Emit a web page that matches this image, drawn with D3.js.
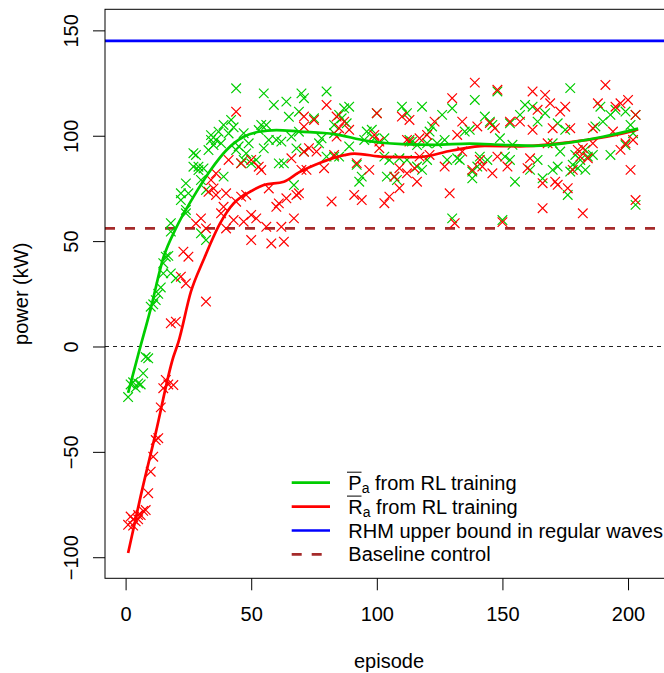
<!DOCTYPE html>
<html>
<head>
<meta charset="utf-8">
<script src="https://cdn.jsdelivr.net/npm/d3@7"></script>
<style>
  html, body { margin: 0; padding: 0; background: #fff; }
  svg { display: block; font-family: "Liberation Sans", Arial, Helvetica, sans-serif; }
</style>
</head>
<body>
<svg id="drawing_region"></svg>
<script>
// [episode, power]
const greenPoints = [
  [1,-24],[2,-18],[3,-17],[4,-19.5],[5,-17.5],[6,-18],[7,-12.7],[8,-5],[9,-5.6],[10,18.9],[11,20],[12,22],[13,25],[14,28],
  [15,39.5],[15,34.7],[16,42.6],[17,43],[18,54.5],[18,34.7],[18,58.5],[20,32.4],
  [22,72.7],[22,69.5],[24,77.4],[24,63.2],[25,72.7],[24,64.8],[27,85.3],[27,91.7],[28,90.9],[29,83.7],[29,85.3],[30,79],
  [30,53.7],[31,84.5],[32,50.5],[32,74.3],[33,93.2],[34,98],[34,100.3],[35,95.6],[36,98],[37,101.9],[38,96.4],[39,105.1],
  [39,80.6],[41,101.1],[42,107.5],[43,104],[44,122.5],[44,93.2],[45,95],[46,87],[47,88.5],[47,101.2],[48,91.6],[49,96.4],
  [50,86.9],[52,88.5],[53,102.7],[54,105.1],[55,120.1],[55,94],[56,105.1],[57,98],[59,114.6],[60,98],[61,86.9],[62,97.2],
  [63,86.9],[64,116.2],[65,109],[66,99.6],[67,76.6],[68,94],[69,111.4],[69,101.9],[70,120.1],[71,117.8],
  [80,121],[89,113.8],[87,113],[85,109.9],[86,108.3],[75,108.3],[83,105.1],[88,105.9],[100,110.7],[110,113.8],[112,110.7],
  [118,113.8],[96,102],[98,102.8],[95,98],[99,98.8],[103,98.8],[78,98.8],[77,96.4],[83,101.2],[89,94.9],[71,92.5],[80,90.1],
  [83,90.1],[103,90.1],[105,88.5],[109,89.3],[112,88.5],[116,85.4],[120,88.5],[104,80.6],[107,80.6],[108,79],[93,78.2],
  [92,86.2],[94,80.6],[85,90.1],[120,96.4],[114,97.2],[113,98],[116,95.6],
  [130,113],[139,117],[148,121],[126,109.9],[122,104.4],[121,102],[127,98],[124,96.4],[135,102],[137,102.8],[143,109.1],
  [145,106.7],[146,105.1],[149,98.8],[153,105.9],[157,109.9],[159,114.6],[162,113.8],[164,106.7],[167,110.7],[154,95.7],
  [151,90.1],[153,88.5],[141,90.1],[140,85.4],[144,88.5],[138,83],[138,79.8],[128,88.5],[132,89.3],[133,88.5],[155,78.2],
  [161,83.8],[164,88.5],[166,79.8],[118,83.8],[130,60.8],[150,60],
  [177,122.6],[172,105.9],[175,102.8],[189,113.8],[187,104.4],[190,106.7],[193,109.9],[195,112.3],[199,111.5],[201,105.1],
  [203,109.9],[202,101.2],[170,96.4],[173,92.5],[179,90.9],[181,88.5],[184,90.1],[186,90.9],[183,93.3],[193,90.9],[199,95.6],
  [172,85.4],[170,83.8],[178,86.2],[180,84.6],[183,83.8],[177,83],[176,71.9],[203,67.2]
];

const redPoints = [
  [1,-84.6],[2,-80.7],[3,-82],[3,-85],[4,-83],[5,-80],[5,-82],[6,-80],[7,-78],[8,-77.6],[9,-69.6],[10,-59.4],[11,-52.3],
  [12,-44.4],[13,-43.5],[14,-28.9],[15,-19.8],[16,-15.9],[17,-18],[19,-18.3],[18,11],[20,11.8],
  [22,33.1],[23,45],[24,29.9],[25,42.6],[28,58.4],[30,60.8],[32,56],[32,21.3],[33,73.4],[34,79],[35,75],[36,71.9],[36,82.1],
  [38,63.2],[39,66.3],[40,72.7],[40,56],[41,88.5],[43,60],[44,68.7],[44,111.4],[46,86.9],[46,71.1],[47,59.2],[48,71.9],
  [50,62.4],[50,50.5],[50,88.5],[52,60.8],[53,85.3],[54,83.7],[56,56.8],[57,75],[58,48.9],[60,66.3],[61,67.9],[62,56.8],
  [63,49.7],[64,70.3],[66,89.3],[67,60.8],[68,71.9],[71,92.4],[71,104.3],
  [80,114.6],[71,109.1],[75,107.5],[84,109.1],[87,106.7],[89,102.8],[85,103.6],[84,99.6],[73,94.1],[76,92.5],[83,90.9],
  [70,83.8],[72,83.8],[79,84.6],[92,87],[97,83.8],[101,94.1],[99,100.4],[101,97.2],[110,109.1],[113,107.5],[112,98],
  [113,97.2],[117,98.8],[120,100.4],[69,72.7],[82,68.8],[91,71.9],[94,69.5],[103,68],[105,71.1],[109,75.1],[112,82.2],
  [116,78.2],[107,80.6],[121,90.9],[109,84.6],[115,84.6],[100,110.7],
  [139,125.2],[148,121.8],[130,117.8],[162,121],[167,119.4],[123,106.7],[134,106.7],[132,100.4],[140,104.4],[145,106],
  [147,103.6],[153,106.7],[157,106.7],[162,102.8],[164,112.3],[168,96.4],[117,90.1],[127,85.4],[141,88.5],[142,85.4],
  [138,83.8],[146,82.2],[148,90.1],[152,85.4],[160,84.6],[161,89.3],[166,77.5],[129,72.7],[131,58.5],[166,65.6],[134,92.5],
  [150,59],
  [191,124.1],[169,115.4],[175,113.8],[173,111.5],[188,115.4],[195,113.8],[197,115.4],[200,117],[203,109.9],[170,103.6],
  [177,103.6],[186,103.6],[194,102],[202,98],[199,96.4],[197,93.3],[180,93.3],[182,94.1],[186,96.4],[181,90.1],[184,89.3],
  [171,78.2],[172,76.7],[176,75.1],[178,83.8],[201,83.8],[203,69.5],[182,63.2]
];

// smoothed curves
const greenSmooth = [
  [1,-22],[5,-4],[10,18],[15,42],[20,56],[27,71],[34,84],[40,93],[47,99.5],[53,101.9],[60,102.7],[69,102],
  [83,100.8],[96,97.6],[110,96],[123,95.7],[137,96.3],[150,95.7],[163,95.2],[177,96.8],[190,99.5],[204,103.4]
];
const redSmooth = [
  [1,-98],[6,-71],[12,-41],[19,-5],[21,2],[26,26],[31,41],[37.6,58.4],[43,67.9],[49.5,73.4],[55,76.6],[63,78.2],
  [69,82.6],[77.5,87.2],[87,90.8],[91,91.5],[103,90],[116,89.8],[130,93],[143,95.2],[157,95],[170,96],[183,97.9],
  [197,100.8],[204,103]
];

const upperBound = 145;
const baselineControl = 56;
const xTicks = [0, 50, 100, 150, 200];
const yTicks = [-100, -50, 0, 50, 100, 150];
const legendItems = [
  {sym: "P", text: " from RL training", color: "#00CD00", dash: null},
  {sym: "R", text: " from RL training", color: "#FF0000", dash: null},
  {sym: null, text: "RHM upper bound in regular waves", color: "#0000FF", dash: null},
  {sym: null, text: "Baseline control", color: "#A52A2A", dash: "10,10"}
];

const W = 664, H = 673;
const box = {left: 105, right: 673, top: 9.3, bottom: 578.3};

const svg = d3.select("#drawing_region").attr("width", W).attr("height", H);

const x = d3.scaleLinear().domain([-8.2, 217.9]).range([box.left, box.right]);
const y = d3.scaleLinear().domain([-110, 160]).range([box.bottom, box.top]);

svg.append("clipPath").attr("id", "plotclip")
  .append("rect")
  .attr("x", box.left).attr("y", box.top)
  .attr("width", box.right - box.left).attr("height", box.bottom - box.top);

const plot = svg.append("g").attr("clip-path", "url(#plotclip)");

// reference lines
plot.append("line")
  .attr("x1", box.left).attr("x2", box.right)
  .attr("y1", y(0)).attr("y2", y(0))
  .attr("stroke", "#222").attr("stroke-width", 1.1).attr("stroke-dasharray", "4,4");

plot.append("line")
  .attr("x1", box.left).attr("x2", box.right)
  .attr("y1", y(baselineControl)).attr("y2", y(baselineControl))
  .attr("stroke", "#A52A2A").attr("stroke-width", 2.7).attr("stroke-dasharray", "10,10");

plot.append("line")
  .attr("x1", box.left).attr("x2", box.right)
  .attr("y1", y(upperBound)).attr("y2", y(upperBound))
  .attr("stroke", "#0000FF").attr("stroke-width", 2.7);

// x markers
const s = 4.8;
const cross = `M${-s},${-s}L${s},${s}M${-s},${s}L${s},${-s}`;

function drawPoints(data, color) {
  plot.append("g").selectAll("path")
    .data(data)
    .enter()
    .append("path")
    .attr("d", cross)
    .attr("transform", d => `translate(${x(d[0])},${y(d[1])})`)
    .attr("fill", "none")
    .attr("stroke", color)
    .attr("stroke-width", 1.2);
}
drawPoints(greenPoints, "#00CD00");
drawPoints(redPoints, "#FF0000");

const line = d3.line()
  .x(d => x(d[0]))
  .y(d => y(d[1]))
  .curve(d3.curveMonotoneX);

plot.append("path").datum(redSmooth)
  .attr("d", line).attr("fill", "none")
  .attr("stroke", "#FF0000").attr("stroke-width", 2.7);
plot.append("path").datum(greenSmooth)
  .attr("d", line).attr("fill", "none")
  .attr("stroke", "#00CD00").attr("stroke-width", 2.7);

// box
svg.append("rect")
  .attr("x", box.left).attr("y", box.top)
  .attr("width", box.right - box.left).attr("height", box.bottom - box.top)
  .attr("fill", "none").attr("stroke", "#000").attr("stroke-width", 1);

// axes
const xAxis = svg.append("g")
  .attr("transform", `translate(0,${box.bottom})`)
  .call(d3.axisBottom(x).tickValues(xTicks).tickSize(12).tickSizeOuter(0));
xAxis.select(".domain").remove();
xAxis.selectAll("line").attr("stroke", "#000");
xAxis.selectAll("text")
  .attr("y", 42.7).attr("dy", 0)
  .attr("font-size", "20px").attr("font-family", null).attr("fill", "#000");

const yAxis = svg.append("g")
  .attr("transform", `translate(${box.left},0)`)
  .call(d3.axisLeft(y).tickValues(yTicks).tickSize(12).tickSizeOuter(0));
yAxis.select(".domain").remove();
yAxis.selectAll("line").attr("stroke", "#000");
yAxis.selectAll("text")
  .attr("x", 0).attr("y", -27).attr("dy", 0)
  .attr("transform", "rotate(-90)")
  .attr("text-anchor", "middle")
  .attr("font-size", "20px").attr("font-family", null).attr("fill", "#000");
yAxis.attr("font-family", null).attr("font-size", null);
xAxis.attr("font-family", null).attr("font-size", null);

svg.append("text")
  .attr("x", (box.left + box.right) / 2).attr("y", 668)
  .attr("text-anchor", "middle").attr("font-size", "20px")
  .text("episode");

svg.append("text")
  .attr("transform", `translate(28,${(box.top + box.bottom) / 2}) rotate(-90)`)
  .attr("text-anchor", "middle").attr("font-size", "20px")
  .text("power (kW)");

// legend
const legend = svg.append("g");
const rowH = 23.9, row0 = 482.7;
legendItems.forEach((d, i) => {
  const cy = row0 + i * rowH;
  legend.append("line")
    .attr("x1", 291.7).attr("x2", 330)
    .attr("y1", cy).attr("y2", cy)
    .attr("stroke", d.color).attr("stroke-width", 2.7)
    .attr("stroke-dasharray", d.dash);
  const t = legend.append("text")
    .attr("x", 348.3).attr("y", cy + 7)
    .attr("font-size", "20px");
  if (d.sym) {
    t.append("tspan").text(d.sym);
    t.append("tspan").attr("font-size", "14px").attr("dy", 3).text("a");
    t.append("tspan").attr("dy", -3).text(d.text);
    legend.append("line")
      .attr("x1", 347).attr("x2", 361.5)
      .attr("y1", cy - 10.5).attr("y2", cy - 10.5)
      .attr("stroke", "#000").attr("stroke-width", 1);
  } else {
    t.text(d.text);
  }
});
</script>
</body>
</html>
